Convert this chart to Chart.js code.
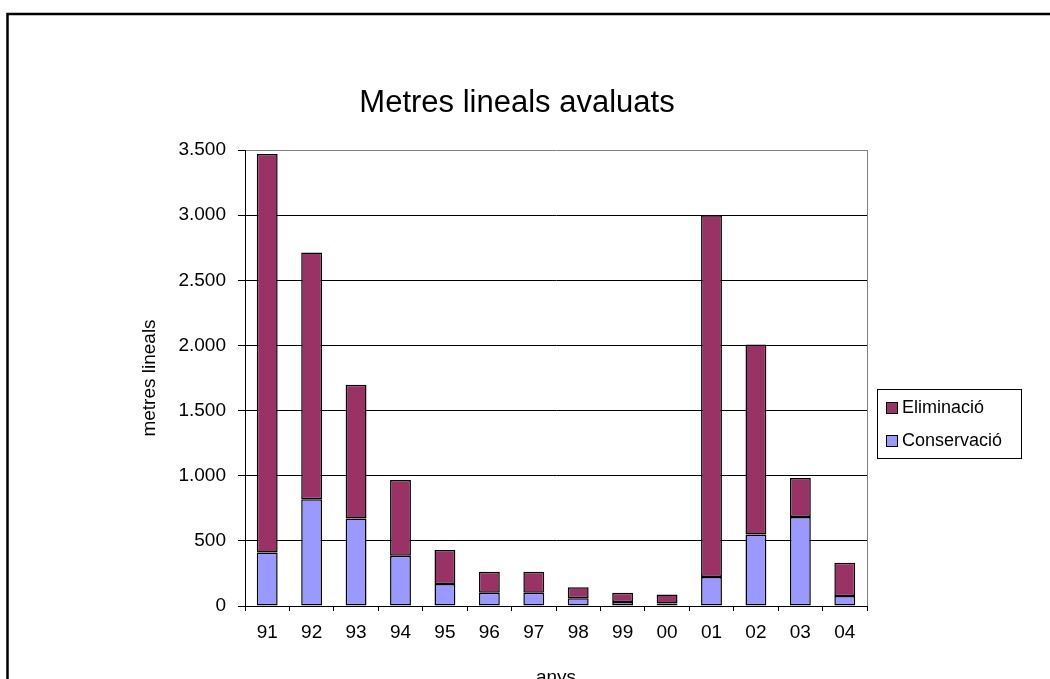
<!DOCTYPE html>
<html>
<head>
<meta charset="utf-8">
<script src="https://cdn.jsdelivr.net/npm/chart.js@4/dist/chart.umd.min.js"></script>
<style>
  html, body { margin: 0; padding: 0; background: #fff; overflow: hidden; }
  #wrap { width: 1050px; height: 720px; }
</style>
</head>
<body>
<div id="wrap"><canvas id="c" width="1050" height="720"></canvas></div>
<script>
const chartTitle = "Metres lineals avaluats";
const categories = ["91","92","93","94","95","96","97","98","99","00","01","02","03","04"];
const conservacio = [410, 820, 672, 386, 169, 102, 102, 60, 31, 20, 222, 549, 684, 77];
const eliminacio = [3060, 1893, 1027, 582, 260, 161, 161, 83, 71, 69, 2778, 1459, 299, 255];
const seriesNames = ["Conservació", "Eliminació"];
const seriesColors = ["#9999FF", "#993366"];
const yTitle = "metres lineals";
const xTitle = "anys";
const yMax = 3500, yStep = 500;

const FONT = "'Liberation Sans', Arial, sans-serif";
Chart.defaults.color = "#000";
Chart.defaults.font.family = FONT;

function fmt(v) { return String(v).replace(/\B(?=(\d{3})+(?!\d))/g, "."); }

const decor = {
  id: "decor",
  beforeDraw(chart) {
    const ctx = chart.ctx;
    ctx.save();
    ctx.fillStyle = "#fff";
    ctx.fillRect(0, 0, chart.width, chart.height);
    ctx.strokeStyle = "#000";
    ctx.lineWidth = 2.5;
    ctx.strokeRect(7.5, 14, 1200, 900);
    ctx.restore();
  },
  afterDraw(chart) {
    const ctx = chart.ctx;
    const a = chart.chartArea;
    ctx.save();
    ctx.strokeStyle = "#808080";
    ctx.lineWidth = 1;
    ctx.beginPath();
    ctx.moveTo(Math.round(a.right) + 0.5, a.top);
    ctx.lineTo(Math.round(a.right) + 0.5, a.bottom);
    ctx.stroke();
    ctx.fillStyle = "#000";
    ctx.font = "31px " + FONT;
    ctx.textAlign = "center";
    ctx.textBaseline = "middle";
    ctx.fillText(chartTitle, 517, 103);
    const lx = 877, ly = 389, lw = 144, lh = 69;
    ctx.strokeStyle = "#000";
    ctx.lineWidth = 1;
    ctx.strokeRect(lx + 0.5, ly + 0.5, lw, lh);
    const ds = chart.data.datasets.slice().reverse();
    ctx.font = "18px " + FONT;
    ctx.textAlign = "left";
    ds.forEach((d, i) => {
      const cy = 407 + i * 33;
      ctx.fillStyle = d.backgroundColor;
      ctx.fillRect(886, cy - 5, 11, 11);
      ctx.strokeStyle = "#000";
      ctx.strokeRect(886.5, cy - 4.5, 11, 11);
      ctx.fillStyle = "#000";
      ctx.fillText(d.label, 902, cy + 1);
    });
    ctx.restore();
  }
};

new Chart(document.getElementById("c"), {
  type: "bar",
  data: {
    labels: categories,
    datasets: [
      { label: seriesNames[0], data: conservacio, backgroundColor: seriesColors[0], borderColor: "#000", borderWidth: 1.5, borderSkipped: false },
      { label: seriesNames[1], data: eliminacio, backgroundColor: seriesColors[1], borderColor: "#000", borderWidth: 1.5, borderSkipped: false }
    ]
  },
  options: {
    responsive: false,
    animation: false,
    layout: { padding: { top: 150, right: 183, left: 0, bottom: 0 } },
    datasets: { bar: { categoryPercentage: 1, barPercentage: 0.47 } },
    plugins: { legend: { display: false }, title: { display: false }, tooltip: { enabled: false } },
    scales: {
      x: {
        stacked: true,
        afterFit(s) { s.height = 114; },
        grid: { display: true, drawOnChartArea: false, drawTicks: true, tickLength: 5, color: "#000", offset: true },
        border: { display: true, color: "#000", width: 1 },
        ticks: { font: { size: 19 }, padding: 10, color: "#000", maxRotation: 0 },
        title: { display: true, text: xTitle, font: { size: 19 }, padding: { top: 0, bottom: 31 }, color: "#000" }
      },
      y: {
        stacked: true,
        min: 0, max: yMax,
        afterFit(s) { s.width = 245; },
        grid: {
          color: (c) => (c.tick && c.tick.value === yMax) ? "#808080" : "#000",
          tickColor: "#000",
          lineWidth: 1, tickLength: 7, drawTicks: true
        },
        border: { display: true, color: "#000", width: 1 },
        ticks: { stepSize: yStep, font: { size: 19 }, padding: 12, color: "#000", callback: (v) => fmt(v) },
        title: { display: true, text: yTitle, font: { size: 19 }, padding: { top: 138, bottom: 0 }, color: "#000" }
      }
    }
  },
  plugins: [decor]
});
</script>
</body>
</html>
